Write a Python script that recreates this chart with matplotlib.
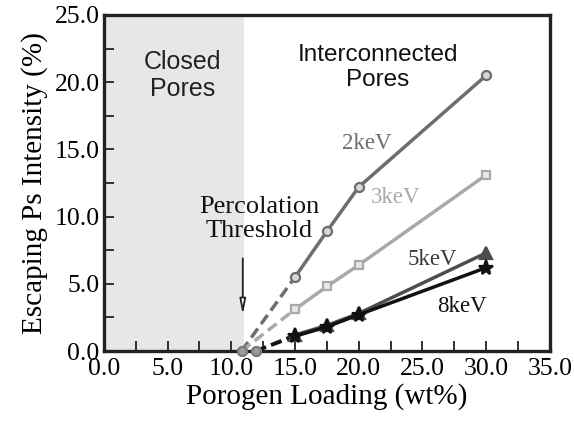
import matplotlib
matplotlib.use('Agg')
import matplotlib.pyplot as plt
from matplotlib.ticker import MultipleLocator, FormatStrFormatter

# measured porogen loadings (wt%) and escaping Ps intensity (%)
loading = [15.0, 17.5, 20.0, 30.0]
i_2kev = [5.5, 8.9, 12.2, 20.5]
i_3kev = [3.1, 4.8, 6.4, 13.1]
i_5kev = [1.2, 1.9, 2.8, 7.3]
i_8kev = [1.1, 1.8, 2.7, 6.2]

# extrapolated percolation points (start of dashed segments)
thr_2kev = (10.8, 0.0)
thr_3kev = (10.8, 0.0)
thr_5kev = (11.9, 0.0)
thr_8kev = (11.9, 0.0)

closed_limit = 11.0

serif = ['Liberation Serif', 'DejaVu Serif']
sans = ['Liberation Sans', 'DejaVu Sans']

fig = plt.figure(figsize=(5.74, 4.26), dpi=100)
ax = fig.add_axes([0.181, 0.176, 0.777, 0.789])

ax.axvspan(0, closed_limit, color='#e6e7e7', zorder=0, lw=0)

series = [
    (i_2kev, thr_2kev, '#6e6e6e', 'o', 6.5, '#d8d8d8'),
    (i_3kev, thr_3kev, '#a9a9a9', 's', 6, '#e8e8e8'),
    (i_5kev, thr_5kev, '#4d4d4d', '^', 8.5, '#4d4d4d'),
    (i_8kev, thr_8kev, '#111111', '*', 11, '#111111'),
]
for vals, thr, col, mk, ms, mfc in series:
    ax.plot([thr[0], loading[0]], [thr[1], vals[0]], color=col, lw=2.5,
            ls=(0, (3.2, 1.6)), zorder=2)
    ax.plot([thr[0]], [thr[1]], marker='o', ms=6.5, color='#7a7a7a',
            mfc='#9a9a9a', mew=1.5, ls='none', zorder=3, clip_on=False)
    ax.plot(loading, vals, color=col, lw=2.5, marker=mk, ms=ms,
            mfc=mfc, mec=col, mew=1.6, zorder=3, clip_on=False)

ax.set_xlim(0, 35)
ax.set_ylim(0, 25)
ax.xaxis.set_major_locator(MultipleLocator(5))
ax.xaxis.set_minor_locator(MultipleLocator(2.5))
ax.yaxis.set_major_locator(MultipleLocator(5))
ax.yaxis.set_minor_locator(MultipleLocator(2.5))
ax.xaxis.set_major_formatter(FormatStrFormatter('%.1f'))
ax.yaxis.set_major_formatter(FormatStrFormatter('%.1f'))
ax.tick_params(which='both', direction='in', top=False, right=False,
               width=1.3, color='#222222')
ax.tick_params(which='major', length=7, labelsize=18.5)
ax.tick_params(axis='x', which='major', pad=5)
ax.tick_params(axis='y', which='major', pad=3)
ax.tick_params(which='minor', length=7)
for lab in ax.get_xticklabels() + ax.get_yticklabels():
    lab.set_family(serif)

for s in ax.spines.values():
    s.set_linewidth(2.4)
    s.set_color('#222222')

ax.set_xlabel('Porogen Loading (wt%)', fontsize=21, family=serif, labelpad=2)
ax.set_ylabel('Escaping Ps Intensity (%)', fontsize=21, family=serif, labelpad=5)

ax.text(6.2, 20.5, 'Closed\nPores', ha='center', va='center', fontsize=18,
        family=sans, color='#222222', linespacing=1.2)
ax.text(21.5, 21.1, 'Interconnected\nPores', ha='center', va='center',
        fontsize=17.5, family=sans, color='#111111', linespacing=1.2)
ax.text(12.2, 9.8, 'Percolation\nThreshold', ha='center', va='center',
        fontsize=19, family=serif, color='#111111', linespacing=1.1)

ax.text(20.6, 15.4, '2keV', ha='center', va='center', fontsize=16.5,
        family=serif, color='#6e6e6e')
ax.text(22.9, 11.4, '3keV', ha='center', va='center', fontsize=16.5,
        family=serif, color='#a9a9a9')
ax.text(25.8, 6.8, '5keV', ha='center', va='center', fontsize=16.5,
        family=serif, color='#3c3c3c')
ax.text(28.1, 3.3, '8keV', ha='center', va='center', fontsize=16.5,
        family=serif, color='#111111')

ax.annotate('', xy=(10.9, 2.5), xytext=(10.9, 7.1),
            arrowprops=dict(arrowstyle='-|>,head_length=0.9,head_width=0.18',
                            color='#222222', fc='white', lw=1.3))

fig.savefig('out.png', dpi=100)
